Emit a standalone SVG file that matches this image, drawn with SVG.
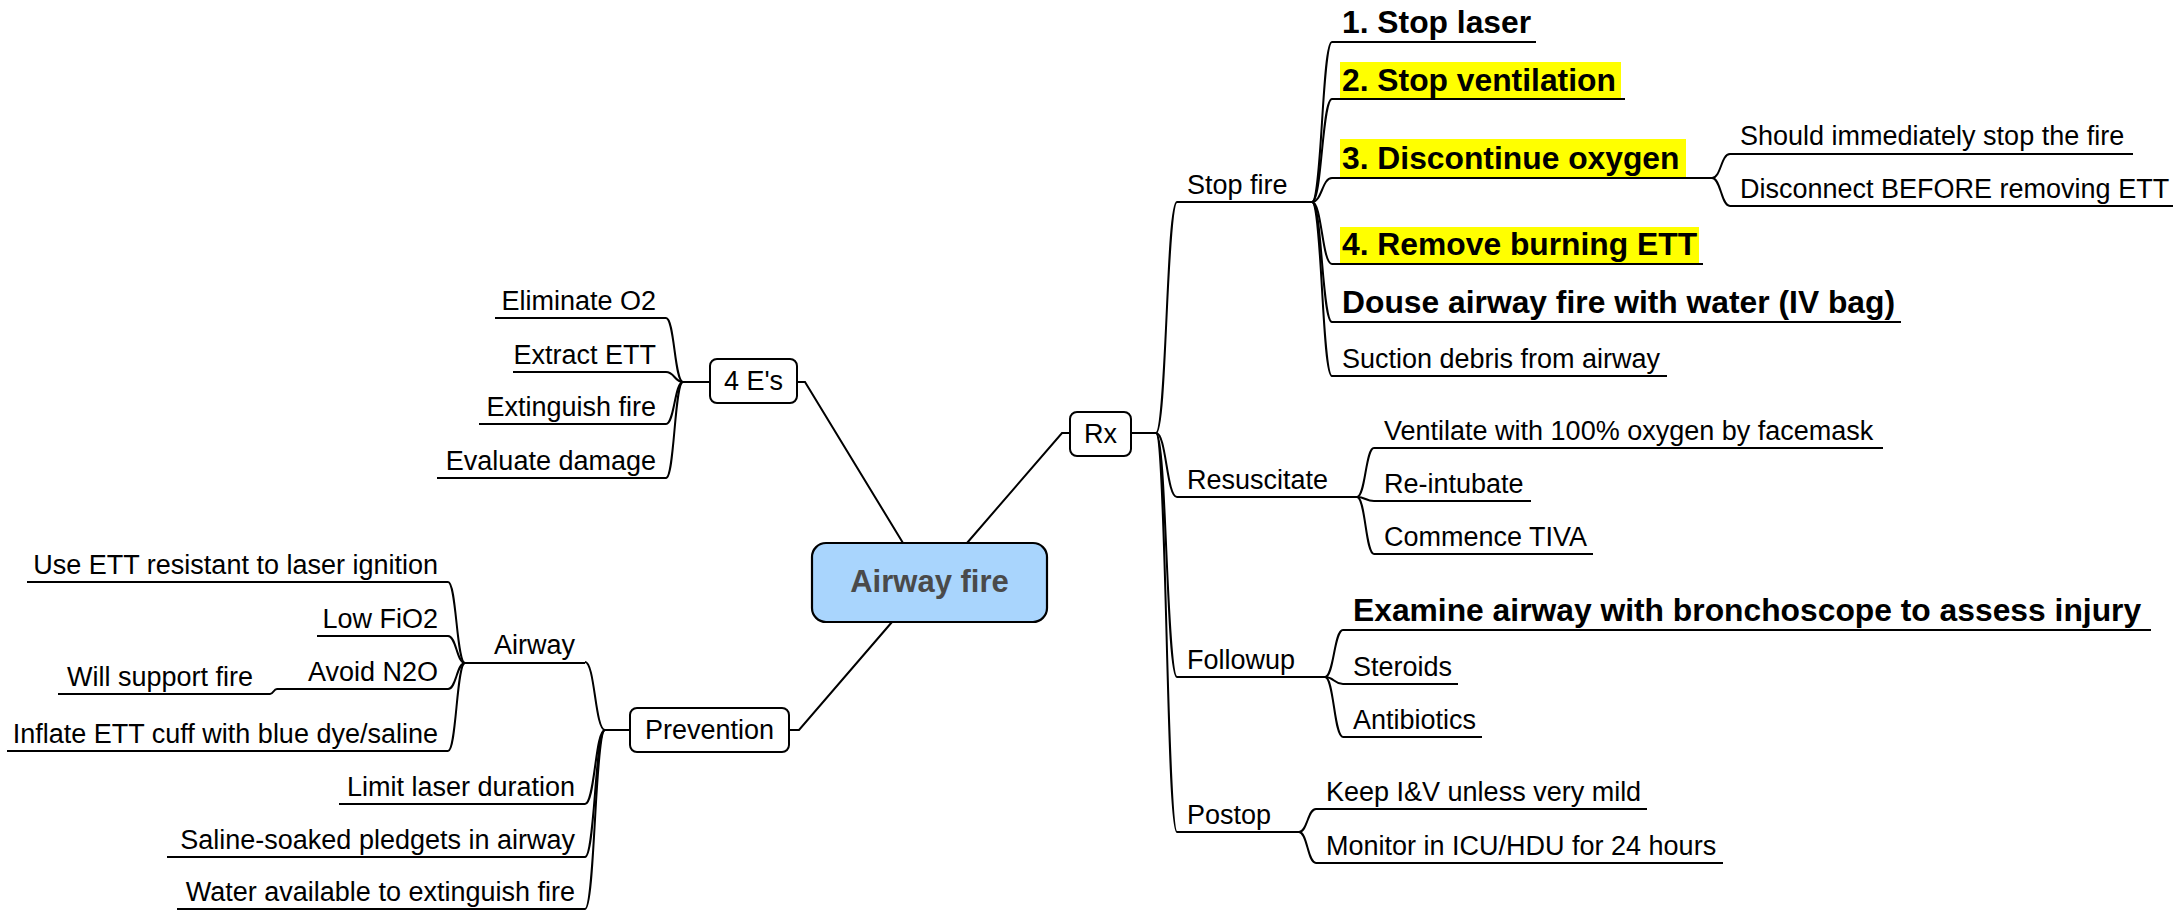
<svg xmlns="http://www.w3.org/2000/svg" width="2183" height="910" viewBox="0 0 2183 910">
  <style>
    .ln { fill: none; stroke: #000; stroke-width: 2; }
    .box { fill: #fff; stroke: #000; stroke-width: 2; }
    .root { fill: #a9d5fd; stroke: #000; stroke-width: 2.2; }
    .hl { fill: #ffff00; }
    text { font-family: "Liberation Sans", Arial, sans-serif; fill: #000; }
    .t { font-size: 27px; }
    .b { font-size: 31.8px; font-weight: bold; }
    .c { font-size: 31px; font-weight: bold; fill: #4a4a4a; }
    .e { text-anchor: end; }
    .m { text-anchor: middle; }
  </style>

  <!-- branch connectors -->
  <g id="connectors" class="ln">
    <!-- root to main topics -->
    <path d="M903 543 L805 382 H797"/>
    <path d="M967 543 L1062 433 H1070"/>
    <path d="M892 622 L799 730 H789"/>
    <!-- 4 E's -->
    <path d="M710 382 H683"/>
    <path d="M683 382 C674.5 382 674.5 318 666 318"/>
    <path d="M683 382 C674.5 382 674.5 372 666 372"/>
    <path d="M683 382 C674.5 382 674.5 424 666 424"/>
    <path d="M683 382 C674.5 382 674.5 478 666 478"/>
    <!-- Prevention -->
    <path d="M630 730 H605"/>
    <path d="M605 730 C595 730 595 662 585 662"/>
    <path d="M605 730 C595 730 595 804 585 804"/>
    <path d="M605 730 C595 730 595 857 585 857"/>
    <path d="M605 730 C595 730 595 909 585 909"/>
    <!-- Airway -->
    <path d="M465 663 C456.5 663 456.5 582 448 582"/>
    <path d="M465 663 C456.5 663 456.5 636 448 636"/>
    <path d="M465 663 C456.5 663 456.5 689 448 689"/>
    <path d="M465 663 C456.5 663 456.5 751 448 751"/>
    <path d="M277 689 C273.5 689 273.5 694 270 694"/>
    <!-- Rx -->
    <path d="M1131 433 H1156"/>
    <path d="M1156 433 C1166.5 433 1166.5 202 1177 202"/>
    <path d="M1156 433 C1166.5 433 1166.5 497 1177 497"/>
    <path d="M1156 433 C1166.5 433 1166.5 677 1177 677"/>
    <path d="M1156 433 C1166.5 433 1166.5 832 1177 832"/>
    <!-- Stop fire -->
    <path d="M1312 202 C1322 202 1322 42 1332 42"/>
    <path d="M1312 202 C1322 202 1322 99 1332 99"/>
    <path d="M1312 202 C1322 202 1322 178 1332 178"/>
    <path d="M1312 202 C1322 202 1322 264 1332 264"/>
    <path d="M1312 202 C1322 202 1322 322 1332 322"/>
    <path d="M1312 202 C1322 202 1322 376 1332 376"/>
    <!-- Discontinue oxygen -->
    <path d="M1712 178 C1721 178 1721 154 1730 154"/>
    <path d="M1712 178 C1721 178 1721 206 1730 206"/>
    <!-- Resuscitate -->
    <path d="M1357 497 C1365.5 497 1365.5 448 1374 448"/>
    <path d="M1357 497 C1365.5 497 1365.5 501 1374 501"/>
    <path d="M1357 497 C1365.5 497 1365.5 554 1374 554"/>
    <!-- Followup -->
    <path d="M1325 677 C1334 677 1334 630 1343 630"/>
    <path d="M1325 677 C1334 677 1334 684 1343 684"/>
    <path d="M1325 677 C1334 677 1334 737 1343 737"/>
    <!-- Postop -->
    <path d="M1299 832 C1307.5 832 1307.5 809 1316 809"/>
    <path d="M1299 832 C1307.5 832 1307.5 863 1316 863"/>
  </g>

  <!-- central topic -->
  <g id="airway-fire">
    <rect class="root" x="812" y="543" width="235" height="79" rx="14"/>
    <text class="c m" x="929.5" y="592">Airway fire</text>
  </g>

  <!-- 4 E's -->
  <g id="four-es">
    <rect class="box" x="710" y="359" width="87" height="44" rx="7"/>
    <text class="t m" x="753.5" y="390">4 E's</text>
  </g>
  <g id="eliminate-o2">
    <path class="ln" d="M495 318 H666"/>
    <text class="t e" x="656" y="310">Eliminate O2</text>
  </g>
  <g id="extract-ett">
    <path class="ln" d="M513 372 H666"/>
    <text class="t e" x="656" y="364">Extract ETT</text>
  </g>
  <g id="extinguish-fire">
    <path class="ln" d="M479 424 H666"/>
    <text class="t e" x="656" y="416">Extinguish fire</text>
  </g>
  <g id="evaluate-damage">
    <path class="ln" d="M437 478 H666"/>
    <text class="t e" x="656" y="470">Evaluate damage</text>
  </g>

  <!-- Prevention -->
  <g id="prevention">
    <rect class="box" x="630" y="708" width="159" height="44" rx="7"/>
    <text class="t m" x="709.5" y="739">Prevention</text>
  </g>
  <g id="airway">
    <path class="ln" d="M465 663 H585"/>
    <text class="t e" x="575" y="654">Airway</text>
  </g>
  <g id="use-ett">
    <path class="ln" d="M27 582 H448"/>
    <text class="t e" x="438" y="574">Use ETT resistant to laser ignition</text>
  </g>
  <g id="low-fio2">
    <path class="ln" d="M317 636 H448"/>
    <text class="t e" x="438" y="628">Low FiO2</text>
  </g>
  <g id="avoid-n2o">
    <path class="ln" d="M277 689 H448"/>
    <text class="t e" x="438" y="681">Avoid N2O</text>
  </g>
  <g id="will-support-fire">
    <path class="ln" d="M58 694 H270"/>
    <text class="t e" x="253" y="686">Will support fire</text>
  </g>
  <g id="inflate-cuff">
    <path class="ln" d="M7 751 H448"/>
    <text class="t e" x="438" y="743">Inflate ETT cuff with blue dye/saline</text>
  </g>
  <g id="limit-laser">
    <path class="ln" d="M339 804 H585"/>
    <text class="t e" x="575" y="796">Limit laser duration</text>
  </g>
  <g id="saline-pledgets">
    <path class="ln" d="M167 857 H585"/>
    <text class="t e" x="575" y="849">Saline-soaked pledgets in airway</text>
  </g>
  <g id="water-available">
    <path class="ln" d="M177 909 H585"/>
    <text class="t e" x="575" y="901">Water available to extinguish fire</text>
  </g>

  <!-- Rx -->
  <g id="rx">
    <rect class="box" x="1070" y="412" width="61" height="44" rx="7"/>
    <text class="t m" x="1100.5" y="443">Rx</text>
  </g>
  <g id="stop-fire">
    <path class="ln" d="M1177 202 H1312"/>
    <text class="t" x="1187" y="194">Stop fire</text>
  </g>
  <g id="stop-laser">
    <path class="ln" d="M1332 42 H1536"/>
    <text class="b" x="1342" y="33">1. Stop laser</text>
  </g>
  <g id="stop-ventilation">
    <rect class="hl" x="1340" y="62" width="281" height="37"/>
    <path class="ln" d="M1332 99 H1625"/>
    <text class="b" x="1342" y="91">2. Stop ventilation</text>
  </g>
  <g id="discontinue-oxygen">
    <rect class="hl" x="1340" y="139" width="346" height="38"/>
    <path class="ln" d="M1332 178 H1712"/>
    <text class="b" x="1342" y="169">3. Discontinue oxygen</text>
  </g>
  <g id="stop-immediately">
    <path class="ln" d="M1730 154 H2133"/>
    <text class="t" x="1740" y="145">Should immediately stop the fire</text>
  </g>
  <g id="disconnect-first">
    <path class="ln" d="M1730 206 H2173"/>
    <text class="t" x="1740" y="198">Disconnect BEFORE removing ETT</text>
  </g>
  <g id="remove-ett">
    <rect class="hl" x="1340" y="227" width="359" height="37"/>
    <path class="ln" d="M1332 264 H1703"/>
    <text class="b" x="1342" y="255">4. Remove burning ETT</text>
  </g>
  <g id="douse-fire">
    <path class="ln" d="M1332 322 H1901"/>
    <text class="b" x="1342" y="313">Douse airway fire with water (IV bag)</text>
  </g>
  <g id="suction-debris">
    <path class="ln" d="M1332 376 H1667"/>
    <text class="t" x="1342" y="368">Suction debris from airway</text>
  </g>

  <g id="resuscitate">
    <path class="ln" d="M1177 497 H1357"/>
    <text class="t" x="1187" y="489">Resuscitate</text>
  </g>
  <g id="ventilate">
    <path class="ln" d="M1374 448 H1883"/>
    <text class="t" x="1384" y="440">Ventilate with 100% oxygen by facemask</text>
  </g>
  <g id="re-intubate">
    <path class="ln" d="M1374 501 H1531"/>
    <text class="t" x="1384" y="493">Re-intubate</text>
  </g>
  <g id="commence-tiva">
    <path class="ln" d="M1374 554 H1593"/>
    <text class="t" x="1384" y="546">Commence TIVA</text>
  </g>

  <g id="followup">
    <path class="ln" d="M1177 677 H1325"/>
    <text class="t" x="1187" y="669">Followup</text>
  </g>
  <g id="examine-airway">
    <path class="ln" d="M1343 630 H2151"/>
    <text class="b" x="1353" y="621">Examine airway with bronchoscope to assess injury</text>
  </g>
  <g id="steroids">
    <path class="ln" d="M1343 684 H1458"/>
    <text class="t" x="1353" y="676">Steroids</text>
  </g>
  <g id="antibiotics">
    <path class="ln" d="M1343 737 H1482"/>
    <text class="t" x="1353" y="729">Antibiotics</text>
  </g>

  <g id="postop">
    <path class="ln" d="M1177 832 H1299"/>
    <text class="t" x="1187" y="824">Postop</text>
  </g>
  <g id="keep-iv">
    <path class="ln" d="M1316 809 H1647"/>
    <text class="t" x="1326" y="801">Keep I&amp;V unless very mild</text>
  </g>
  <g id="monitor-icu">
    <path class="ln" d="M1316 863 H1723"/>
    <text class="t" x="1326" y="855">Monitor in ICU/HDU for 24 hours</text>
  </g>
</svg>
